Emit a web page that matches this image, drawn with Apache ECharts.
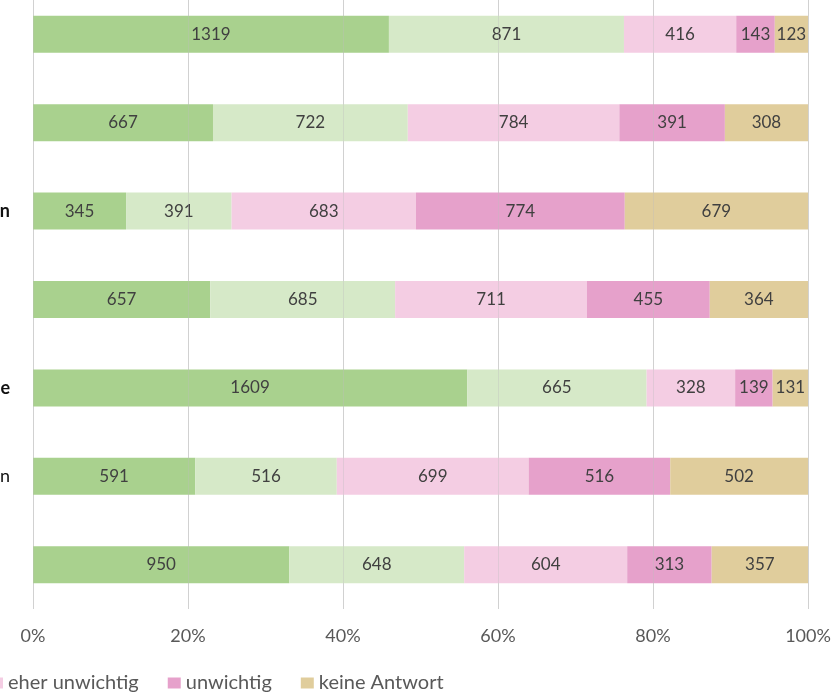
<!DOCTYPE html>
<html>
<head>
<meta charset="utf-8">
<script src="https://cdn.jsdelivr.net/npm/echarts@6/dist/echarts.min.js"></script>
<style>
  html, body { margin: 0; padding: 0; background: #fff; }
  #chart { width: 840px; height: 695px; }
</style>
</head>
<body>
<div id="chart"></div>
<script>
// Kategorien (links abgeschnitten im Original)
const categories = ['Gesundheit', 'Bildung', 'Kommunikation', 'Sicherheit', 'Familie und Freunde', 'Arbeit und Einkommen', 'Wohnen'];
const boldRows = [2, 4];
const visibleRows = [2, 4, 5];

const seriesNames = ['wichtig', 'eher wichtig', 'eher unwichtig', 'unwichtig', 'keine Antwort'];
const wichtig       = [1319, 667, 345, 657, 1609, 591, 950];
const eherWichtig   = [871, 722, 391, 685, 665, 516, 648];
const eherUnwichtig = [416, 784, 683, 711, 328, 699, 604];
const unwichtig     = [143, 391, 774, 455, 139, 516, 313];
const keineAntwort  = [123, 308, 679, 364, 131, 502, 357];
const colors = ['#a9d18e', '#d6e9c8', '#f4cde3', '#e6a1cb', '#e0cd9c'];

const xTicks = [0, 20, 40, 60, 80, 100];

const all = [wichtig, eherWichtig, eherUnwichtig, unwichtig, keineAntwort];
const totals = categories.map((c, i) => all.reduce((s, arr) => s + arr[i], 0));

// Legende links abgeschnitten: die ersten zwei Einträge liegen außerhalb
const legendFont = '20px Lato';
const ctx = document.createElement('canvas').getContext('2d');
ctx.font = legendFont;
const iconW = 13, iconGap = 5, itemGap = 29;
const hiddenW = seriesNames.slice(0, 2)
  .reduce((s, n) => s + iconW + iconGap + ctx.measureText(n).width + itemGap, 0);
const legendLeft = 8 - iconGap - iconW - hiddenW;

const chart = echarts.init(document.getElementById('chart'));

const series = all.map((arr, k) => ({
  name: seriesNames[k],
  type: 'bar',
  stack: 'total',
  barWidth: 37,
  itemStyle: { color: colors[k] },
  label: {
    show: true,
    position: 'inside',
    color: '#404040',
    fontSize: 17,
    fontFamily: 'Lato',
    formatter: p => arr[p.dataIndex]
  },
  data: arr.map((v, i) => v / totals[i] * 100)
}));

chart.setOption({
  animation: false,
  textStyle: { fontFamily: 'Lato' },
  grid: { left: 33, right: 32, top: -10, bottom: 86, outerBoundsMode: 'none', containLabel: false },
  legend: {
    top: 673,
    left: legendLeft,
    padding: 0,
    itemWidth: iconW,
    itemHeight: 11,
    itemGap: itemGap,
    icon: 'rect',
    textStyle: { color: '#595959', fontSize: 20, fontFamily: 'Lato' },
    data: seriesNames
  },
  xAxis: [{
    type: 'value',
    min: 0,
    max: 100,
    interval: 20,
    axisLine: { show: false },
    axisTick: { show: false },
    splitLine: { lineStyle: { color: '#dcdcdc' } },
    axisLabel: { color: '#595959', fontSize: 18, margin: 18, formatter: v => xTicks.includes(v) ? v + '%' : '' }
  }, {
    type: 'value',
    min: 0,
    max: 100,
    interval: 20,
    position: 'bottom',
    z: 10,
    axisLine: { show: false },
    axisTick: { show: false },
    axisLabel: { show: false },
    splitLine: { lineStyle: { color: 'rgba(190,190,190,0.35)' } }
  }],
  yAxis: {
    type: 'category',
    inverse: true,
    data: categories,
    axisLine: { show: false },
    axisTick: { show: false },
    axisLabel: {
      margin: 23,
      fontSize: 18,
      color: '#000',
      formatter: (v, i) => {
        if (boldRows.includes(i)) return '{b|' + v + '}';
        if (visibleRows.includes(i)) return '{n|' + v + '}';
        return '{h|' + v + '}';
      },
      rich: {
        b: { fontWeight: 'bold', fontSize: 18, color: '#111' },
        n: { fontSize: 18, color: '#111' },
        h: { fontSize: 18, color: '#111', padding: [0, 30, 0, 0] }
      }
    }
  },
  series: series
});
</script>
</body>
</html>
